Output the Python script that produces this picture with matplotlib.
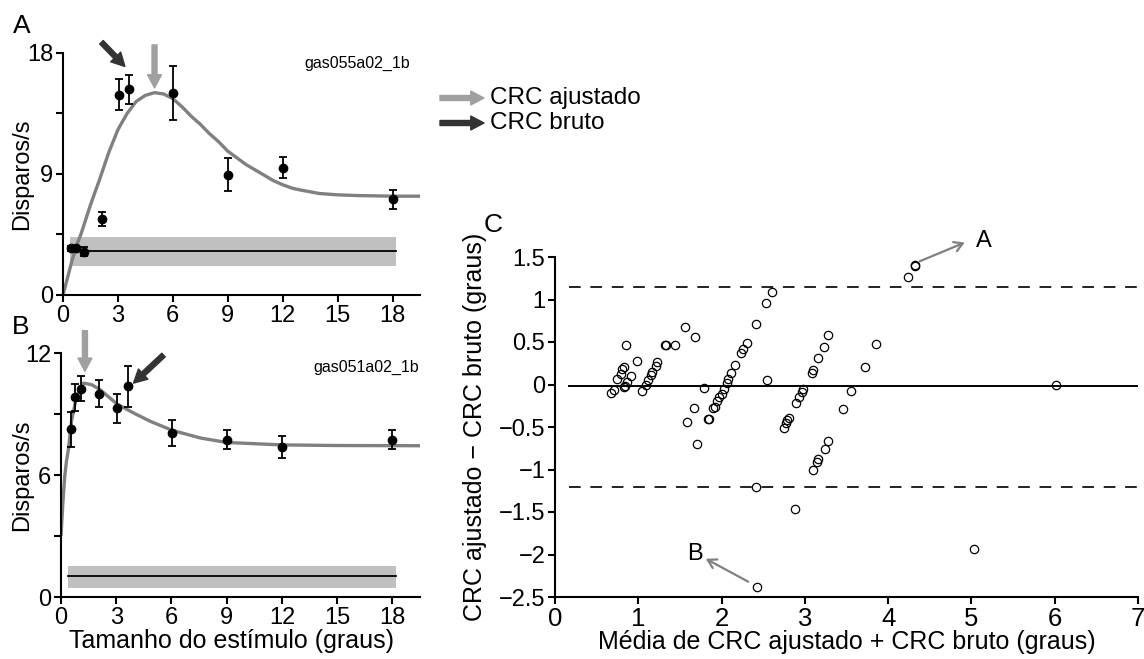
import numpy as np
import matplotlib
matplotlib.use('Agg')
from matplotlib import pyplot as plt

plt.rcParams['font.family'] = ['Liberation Sans', 'DejaVu Sans']

# panel A: gas055a02_1b
a_x = [0.45, 0.73, 1.13, 2.13, 3.04, 3.62, 6.02, 9.0, 12.0, 18.0]
a_y = [3.48, 3.48, 3.23, 5.66, 14.9, 15.3, 15.0, 8.96, 9.48, 7.12]
a_err = [0.2, 0.2, 0.35, 0.5, 1.15, 1.1, 2.0, 1.2, 0.8, 0.7]
a_fit_x = [0, 0.25, 0.5, 0.75, 1, 1.5, 2, 2.5, 3, 3.5, 4, 4.5, 5, 5.5, 6, 6.5, 7,
           7.5, 8, 8.5, 9, 9.5, 10, 10.5, 11, 11.5, 12, 12.5, 13, 14, 15, 16, 18, 19.5]
a_fit_y = [0, 1.3, 2.6, 3.7, 4.6, 6.7, 8.6, 10.6, 12.3, 13.5, 14.4, 14.85, 15.05, 14.95,
           14.6, 14.0, 13.3, 12.7, 12.0, 11.4, 10.7, 10.2, 9.7, 9.3, 8.9, 8.5, 8.2, 7.95,
           7.8, 7.55, 7.45, 7.4, 7.35, 7.35]
a_spont = 3.3
a_spont_sd = (2.15, 4.35)

# panel B: gas051a02_1b
b_x = [0.53, 0.76, 1.1, 2.07, 3.03, 3.65, 6.03, 9.02, 12.0, 18.0]
b_y = [8.26, 9.82, 10.25, 10.0, 9.28, 10.36, 8.07, 7.74, 7.38, 7.74]
b_err = [0.86, 0.65, 0.6, 0.68, 0.7, 1.0, 0.62, 0.45, 0.53, 0.47]
b_fit_x = [0, 0.1, 0.2, 0.3, 0.4, 0.58, 0.85, 1.22, 1.67, 2.12, 3.03, 3.94, 4.85,
           6.03, 7.57, 9.0, 12.0, 15.0, 19.5]
b_fit_y = [3.0, 4.6, 5.9, 6.7, 7.25, 8.7, 9.87, 10.52, 10.44, 10.2, 9.5, 9.05, 8.64,
           8.2, 7.82, 7.6, 7.48, 7.45, 7.44]
b_spont = 1.02
b_spont_sd = (0.44, 1.51)

# panel C: Bland-Altman, mean vs difference (graus)
c_mean = [0.67, 0.71, 0.75, 0.79, 0.81, 0.83, 0.83, 0.84, 0.86, 0.91, 0.85, 0.99,
          1.05, 1.09, 1.12, 1.15, 1.17, 1.21, 1.23, 1.32, 1.33, 1.44, 1.56, 1.68,
          1.59, 1.67, 1.70, 1.79,
          1.84, 1.85, 1.90, 1.92, 1.95, 1.97, 2.00, 2.03, 2.06, 2.08, 2.11, 2.16,
          2.23, 2.26, 2.30, 2.41, 2.53, 2.60, 2.55,
          2.41, 2.88, 2.42,
          2.75, 2.77, 2.79, 2.81, 2.89, 2.93, 2.96, 2.98, 3.08, 3.10, 3.16, 3.23, 3.28,
          3.10, 3.15, 3.16, 3.24, 3.28,
          3.46, 3.56, 3.72, 3.85, 4.24, 4.32, 4.32, 5.03, 6.01]
c_diff = [-0.10, -0.06, 0.07, 0.12, 0.18, 0.21, -0.03, -0.02, 0.03, 0.10, 0.46, 0.28,
          -0.08, -0.01, 0.05, 0.11, 0.15, 0.22, 0.26, 0.46, 0.47, 0.46, 0.68, 0.56,
          -0.44, -0.28, -0.70, -0.04,
          -0.40, -0.41, -0.28, -0.26, -0.19, -0.15, -0.11, -0.05, 0.02, 0.06, 0.13, 0.23,
          0.37, 0.42, 0.49, 0.71, 0.96, 1.09, 0.05,
          -1.21, -1.46, -2.38,
          -0.51, -0.45, -0.42, -0.39, -0.22, -0.15, -0.09, -0.05, 0.13, 0.17, 0.31, 0.44, 0.58,
          -1.01, -0.91, -0.88, -0.76, -0.67,
          -0.29, -0.08, 0.21, 0.48, 1.27, 1.40, 1.41, -1.94, 0.0]
c_bias = -0.02
c_limits = (-1.2, 1.145)

W, H = 1144, 659
fig = plt.figure(figsize=(W / 100, H / 100), dpi=100)


def px_axes(left, top, right, bottom):
    return fig.add_axes([left / W, 1 - bottom / H, (right - left) / W, (bottom - top) / H])


def style(ax, tsize):
    for s in ['top', 'right']:
        ax.spines[s].set_visible(False)
    for s in ['left', 'bottom']:
        ax.spines[s].set_linewidth(1.5)
    ax.tick_params(direction='out', length=5, width=1.5, labelsize=tsize, pad=2)


def fat_arrow(ax, tail, tip, color):
    ax.annotate('', xy=tip, xytext=tail, annotation_clip=False,
                arrowprops=dict(arrowstyle='simple,head_length=0.95,head_width=1.0,tail_width=0.36',
                                color=color, mutation_scale=10, shrinkA=0, shrinkB=0))


def thin_arrow(ax, tail, tip):
    ax.annotate('', xy=tip, xytext=tail, annotation_clip=False,
                arrowprops=dict(arrowstyle='->,head_length=0.6,head_width=0.35', color='#808080',
                                lw=1.6, shrinkA=0, shrinkB=0))


GRAY_ARROW = '#a0a0a0'
DARK_ARROW = '#333333'

# --- panel A
axA = px_axes(63, 53, 420, 295)
axA.fill_between([0.36, 18.2], a_spont_sd[0], a_spont_sd[1], color='#c0c0c0', lw=0)
axA.plot([0.36, 18.2], [a_spont, a_spont], color='black', lw=1.3)
axA.plot(a_fit_x, a_fit_y, color='#808080', lw=2.4, solid_capstyle='butt')
axA.errorbar(a_x, a_y, yerr=a_err, fmt='o', color='black', ms=6, capsize=3, elinewidth=1.3,
             capthick=1.3)
axA.set_xlim(0, 19.5)
axA.set_ylim(0, 18)
axA.set_xticks([0, 3, 6, 9, 12, 15, 18])
axA.set_yticks([0, 4.5, 9, 13.5, 18])
axA.set_yticklabels(['0', '', '9', '', '18'])
style(axA, 17)
axA.set_ylabel('Disparos/s', fontsize=17)
axA.yaxis.set_label_coords(-0.084, 0.5)
axA.text(13.2, 17.2, 'gas055a02_1b', fontsize=11.5, va='center')
fat_arrow(axA, (5.0, 18.6), (5.0, 15.4), GRAY_ARROW)
fat_arrow(axA, (2.1, 18.8), (3.38, 17.0), DARK_ARROW)

# --- panel B
axB = px_axes(61, 353, 420, 597)
axB.fill_between([0.4, 18.2], b_spont_sd[0], b_spont_sd[1], color='#c0c0c0', lw=0)
axB.plot([0.4, 18.2], [b_spont, b_spont], color='black', lw=1.3)
axB.plot(b_fit_x, b_fit_y, color='#808080', lw=2.4, solid_capstyle='butt')
axB.errorbar(b_x, b_y, yerr=b_err, fmt='o', color='black', ms=6, capsize=3, elinewidth=1.3,
             capthick=1.3)
axB.set_xlim(0, 19.5)
axB.set_ylim(0, 12)
axB.set_xticks([0, 3, 6, 9, 12, 15, 18])
axB.set_yticks([0, 3, 6, 9, 12])
axB.set_yticklabels(['0', '', '6', '', '12'])
style(axB, 17)
axB.set_ylabel('Disparos/s', fontsize=17)
axB.yaxis.set_label_coords(-0.078, 0.5)
axB.set_xlabel('Tamanho do estímulo (graus)', fontsize=18)
axB.xaxis.set_label_coords(0.474, -0.13)
axB.text(13.7, 11.3, 'gas051a02_1b', fontsize=11.5, va='center')
fat_arrow(axB, (1.3, 13.1), (1.3, 11.1), GRAY_ARROW)
fat_arrow(axB, (5.57, 11.9), (3.94, 10.52), DARK_ARROW)

# --- panel C
axC = px_axes(555, 257, 1138, 597)
axC.plot([0.17, 7], [c_bias, c_bias], color='black', lw=1.4)
for lim in c_limits:
    axC.plot([0.17, 7], [lim, lim], color='#222222', lw=1.4, dashes=(6, 5))
axC.plot(c_mean, c_diff, 'o', mfc='none', mec='black', ms=6, mew=0.9)
axC.set_xlim(0, 7)
axC.set_ylim(-2.5, 1.5)
axC.set_xticks(range(8))
axC.set_yticks(np.arange(-2.5, 1.51, 0.5))
axC.set_yticklabels(['−2.5', '−2', '−1.5', '−1', '−0.5', '0', '0.5', '1', '1.5'])
style(axC, 17)
axC.tick_params(axis='x', labelsize=18.5)
axC.set_xlabel('Média de CRC ajustado + CRC bruto (graus)', fontsize=18)
axC.xaxis.set_label_coords(0.5, -0.097)
axC.set_ylabel('CRC ajustado − CRC bruto (graus)', fontsize=18)
axC.yaxis.set_label_coords(-0.117, 0.5)
thin_arrow(axC, (4.38, 1.45), (4.92, 1.67))
axC.text(5.06, 1.69, 'A', fontsize=17, va='center', ha='left')
thin_arrow(axC, (2.32, -2.32), (1.81, -2.05))
axC.text(1.77, -2.0, 'B', fontsize=17, va='center', ha='right')

# legend arrows
fig_ax = fig.add_axes([0, 0, 1, 1], facecolor='none')
fig_ax.set_axis_off()
fig_ax.set_xlim(0, W)
fig_ax.set_ylim(H, 0)
fat_arrow(fig_ax, (440, 98), (484, 98), GRAY_ARROW)
fat_arrow(fig_ax, (440, 123), (484, 123), DARK_ARROW)
fig_ax.text(490, 98, 'CRC ajustado', fontsize=17.5, va='center')
fig_ax.text(490, 123, 'CRC bruto', fontsize=17.5, va='center')

# panel letters
fig_ax.text(22, 26, 'A', fontsize=19, ha='center', va='center')
fig_ax.text(21, 327, 'B', fontsize=19, ha='center', va='center')
fig_ax.text(493, 225, 'C', fontsize=19, ha='center', va='center')

fig.savefig('out.png', dpi=100)
